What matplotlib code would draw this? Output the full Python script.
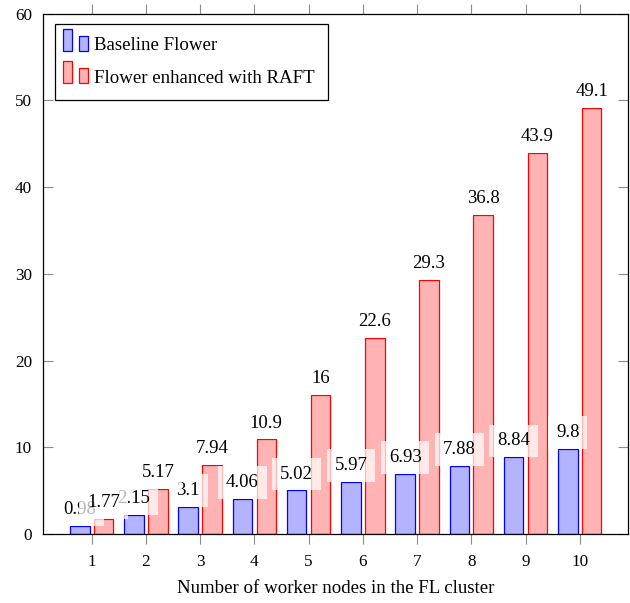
import matplotlib.pyplot as plt
from matplotlib.patches import Rectangle
from matplotlib.legend_handler import HandlerBase

plt.rcParams["font.family"] = ["Liberation Serif", "DejaVu Serif"]

nodes = [1, 2, 3, 4, 5, 6, 7, 8, 9, 10]
baseline = [0.98, 2.15, 3.1, 4.06, 5.02, 5.97, 6.93, 7.88, 8.84, 9.8]
raft = [1.77, 5.17, 7.94, 10.9, 16, 22.6, 29.3, 36.8, 43.9, 49.1]
series_names = ["Baseline Flower", "Flower enhanced with RAFT"]

blue_fc, blue_ec = "#b3b3ff", "#0000ff"
red_fc, red_ec = "#ffb3b3", "#ff0000"


class BarPairHandler(HandlerBase):
    # pgfplots style legend: two small bars (sizes in points)
    def create_artists(self, legend, orig_handle, xdescent, ydescent,
                       width, height, fontsize, trans):
        fc = orig_handle.get_facecolor()
        ec = orig_handle.get_edgecolor()
        x0 = -xdescent - 3.75
        y0 = -ydescent - 0.5
        r1 = Rectangle((x0, y0), 6.5, 15.8, fc=fc, ec=ec, lw=0.9, transform=trans)
        r2 = Rectangle((x0 + 11.5, y0), 6.5, 10.8, fc=fc, ec=ec, lw=0.9, transform=trans)
        return [r1, r2]


fig = plt.figure(figsize=(6.3, 6.03), dpi=100)
ax = fig.add_axes([0.0687, 0.1144, 0.9282, 0.8632])

bw = 0.36
off = 0.22
b1 = ax.bar([n - off for n in nodes], baseline, width=bw, color=blue_fc, edgecolor=blue_ec,
            linewidth=0.9, zorder=2, label=series_names[0])
b2 = ax.bar([n + off for n in nodes], raft, width=bw, color=red_fc, edgecolor=red_ec,
            linewidth=0.9, zorder=2, label=series_names[1])

fs_lab = 13.5
box = dict(boxstyle="square,pad=0.42", fc="white", ec="none", alpha=0.72)
for n, v in zip(nodes, baseline):
    ax.annotate(f"{v:.3g}", (n - off, v), xytext=(0, fs_lab * 0.42), textcoords="offset points",
                ha="center", va="bottom", fontsize=fs_lab, bbox=box, zorder=4)
for n, v in zip(nodes, raft):
    ax.annotate(f"{v:.3g}", (n + off, v), xytext=(0, fs_lab * 0.42), textcoords="offset points",
                ha="center", va="bottom", fontsize=fs_lab, bbox=box, zorder=5)

ax.set_xlim(0.107, 10.89)
ax.set_ylim(0, 60)
ax.set_xticks(nodes)
ax.set_yticks([0, 10, 20, 30, 40, 50, 60])
ax.tick_params(axis="x", direction="out", length=7.5, width=0.8, color="#8c8c8c",
               top=True, labelsize=12.3, pad=7)
ax.tick_params(axis="y", direction="in", length=7.5, width=0.8, color="#8c8c8c",
               right=True, labelsize=12.3, pad=8)
for s in ax.spines.values():
    s.set_linewidth(0.9)
ax.set_xlabel("Number of worker nodes in the FL cluster", fontsize=13.6, labelpad=7)

leg = ax.legend(handles=[b1.patches[0], b2.patches[0]], labels=series_names,
                handler_map={Rectangle: BarPairHandler()},
                loc="upper left", bbox_to_anchor=(0.0205, 0.98), borderaxespad=0,
                fontsize=13.6, fancybox=False, edgecolor="black", framealpha=1,
                handlelength=1.0, handletextpad=0.37, labelspacing=0.8,
                borderpad=0.7)
leg.get_frame().set_linewidth(0.9)

plt.savefig("out.png", dpi=100)
plt.close()
